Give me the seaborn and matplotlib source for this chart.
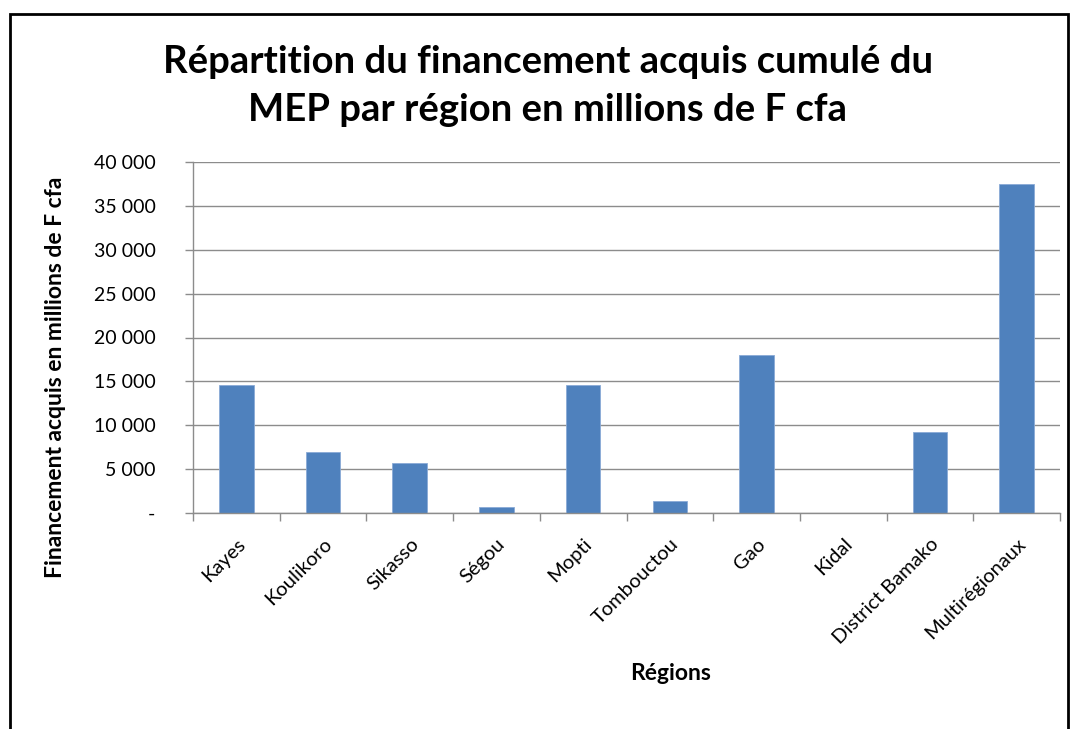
import matplotlib
matplotlib.use("Agg")
import matplotlib.pyplot as plt
import seaborn as sns
import pandas as pd
from matplotlib.ticker import FuncFormatter, FixedLocator
from matplotlib.patches import Rectangle

regions = ["Kayes", "Koulikoro", "Sikasso", "Ségou", "Mopti", "Tombouctou",
           "Gao", "Kidal", "District Bamako", "Multirégionaux"]
values = [14620, 6950, 5700, 680, 14620, 1400, 18000, 0, 9230, 37530]
title = "Répartition du financement acquis cumulé du\nMEP par région en millions de F cfa"
ylabel = "Financement acquis en millions de F cfa"
xlabel = "Régions"

sns.set_theme(style="white")
plt.rcParams['font.family'] = ['Lato', 'DejaVu Sans']
plt.rcParams['text.color'] = 'black'

df = pd.DataFrame({"region": regions, "value": values})

W, H = 1075, 729
fig = plt.figure(figsize=(W / 100, H / 100), dpi=100)
ax = fig.add_axes([193 / W, 1 - 513 / H, (1060 - 193) / W, (513 - 162) / H])

sns.barplot(data=df, x="region", y="value", color="#4F81BD", saturation=1,
            width=0.4, edgecolor="#8AAAD6", linewidth=0.6, ax=ax)

ax.set_ylim(0, 40000)
ax.set_xlim(-0.5, len(regions) - 0.5)
ax.yaxis.set_major_locator(FixedLocator(range(0, 40001, 5000)))
ax.yaxis.set_major_formatter(FuncFormatter(
    lambda v, p: "-" if v == 0 else f"{int(v):,}".replace(",", " ")))
ax.grid(axis="y", color="#8C8C8C", linewidth=1)
ax.set_axisbelow(True)
for s in ["top", "right"]:
    ax.spines[s].set_visible(False)
for s in ["left", "bottom"]:
    ax.spines[s].set_color("#8C8C8C")
    ax.spines[s].set_linewidth(1)

ax.tick_params(axis="y", which="major", left=True, length=6, width=1,
               color="#8C8C8C", labelsize=14, labelcolor="black", pad=21)
ax.tick_params(axis="x", which="major", bottom=False, length=0,
               labelsize=14.5, labelcolor="black", pad=16)
ax.set_xticks([i - 0.5 for i in range(len(regions) + 1)], minor=True)
ax.tick_params(axis="x", which="minor", bottom=True, length=6, width=1,
               color="#8C8C8C")
for lab in ax.get_xticklabels():
    lab.set_rotation(45)
    lab.set_ha("right")
    lab.set_rotation_mode("anchor")

ax.set_xlabel("")
ax.set_ylabel("")
fig.text(671 / W, 1 - 673 / H, xlabel, ha="center", va="center",
         fontsize=16.5, fontweight="bold")
fig.text(56 / W, 1 - 377 / H, ylabel, ha="center", va="center",
         rotation=90, fontsize=16.5, fontweight="bold")
fig.text(548 / W, 1 - 86 / H, title, ha="center", va="center",
         fontsize=27.5, fontweight="bold", linespacing=1.5)

fig.patches.append(Rectangle((10 / W, -0.05), (1068 - 10) / W, (H - 14) / H + 0.05,
                             transform=fig.transFigure, fill=False,
                             edgecolor="black", linewidth=2, clip_on=False))

fig.savefig("out.png", dpi=100, facecolor="white")
